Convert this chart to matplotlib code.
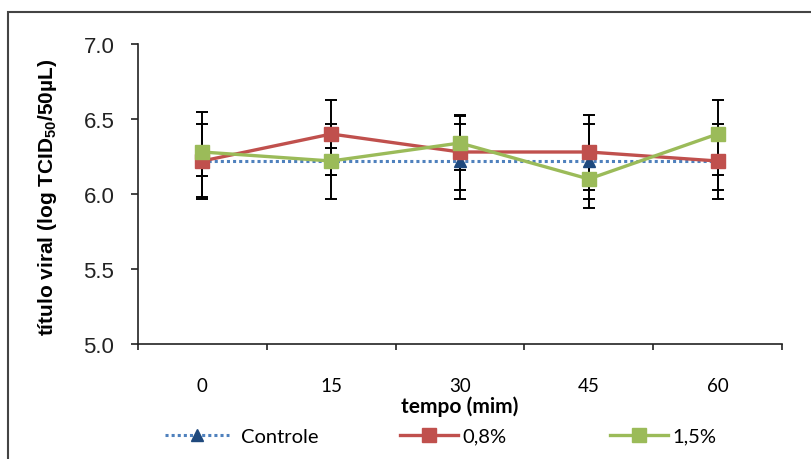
import matplotlib
matplotlib.use("Agg")
import matplotlib.pyplot as plt
from matplotlib.lines import Line2D
from matplotlib.patches import Rectangle

times = ['0', '15', '30', '45', '60']
controle = [6.22, 6.22, 6.22, 6.22, 6.22]
controle_err = [0.25, 0.25, 0.25, 0.25, 0.25]
p08 = [6.22, 6.40, 6.28, 6.28, 6.22]
p08_lo = [0.10, 0.27, 0.25, 0.25, 0.19]
p08_hi = [0.10, 0.23, 0.25, 0.25, 0.19]
p15 = [6.28, 6.22, 6.34, 6.10, 6.40]
p15_lo = [0.30, 0.09, 0.18, 0.19, 0.27]
p15_hi = [0.27, 0.09, 0.18, 0.19, 0.23]
yticks = [5.0, 5.5, 6.0, 6.5, 7.0]

plt.rcParams['mathtext.fontset'] = 'custom'
plt.rcParams['mathtext.rm'] = 'Liberation Sans:bold'
plt.rcParams['mathtext.default'] = 'rm'

W, H = 811, 460
fig = plt.figure(figsize=(W / 100, H / 100), dpi=100)
ax = fig.add_axes([138 / W, 1 - 345 / H, (782 - 138) / W, (345 - 45) / H])

x = list(range(len(times)))
blue_line = '#4F81BD'
blue_mk = '#1F497D'
red = '#C0504D'
green = '#9BBB59'

eb_kw = dict(fmt='none', ecolor='black', elinewidth=1.4, capsize=4.5, capthick=1.4, zorder=2)
ax.errorbar(x, controle, yerr=controle_err, **eb_kw)
ax.errorbar(x, p08, yerr=[p08_lo, p08_hi], **eb_kw)
ax.errorbar(x, p15, yerr=[p15_lo, p15_hi], **eb_kw)

ax.plot(x, controle, color=blue_line, linestyle=(0, (1, 1)), lw=2.2,
        marker='^', ms=8, mfc=blue_mk, mec=blue_mk, zorder=3)
ax.plot(x, p08, color=red, lw=2.4, marker='s', ms=10, mfc=red, mec=red, zorder=4)
ax.plot(x, p15, color=green, lw=2.4, marker='s', ms=10, mfc=green, mec=green, zorder=5)

ax.set_xlim(-0.5, len(times) - 0.5)
ax.set_ylim(5.0, 7.0)
ax.set_yticks(yticks)
ax.set_yticklabels([f'{v:.1f}' for v in yticks], family='Liberation Sans', fontsize=16, color='#222222')
ax.set_xticks([i - 0.5 for i in range(len(times) + 1)])
ax.set_xticklabels([])
ax.set_xticks(x, minor=True)
ax.set_xticklabels(times, minor=True, family='Lato', fontsize=13.5)
ax.tick_params(axis='x', which='major', direction='out', length=4, width=1.2, color='#222222')
ax.tick_params(axis='x', which='minor', length=0, pad=24)
ax.tick_params(axis='y', direction='out', length=5, width=1.2, color='#222222', pad=12)

for s in ['top', 'right']:
    ax.spines[s].set_visible(False)
for s in ['left', 'bottom']:
    ax.spines[s].set_linewidth(1.2)
    ax.spines[s].set_color('#222222')

fig.text(460 / W, 1 - 407 / H, 'tempo (mim)', ha='center', va='center',
         family='Lato', fontweight='bold', fontsize=15)
fig.text(48 / W, 1 - 197 / H, 'título viral (log TCID$_{50}$/50µL)', rotation=90,
         ha='center', va='center', family='Liberation Sans', fontweight='bold', fontsize=15)

# figure frame
fig.add_artist(Rectangle((8 / W, -0.1), 1.2, 1 - 13 / H + 0.1, transform=fig.transFigure,
                         fill=False, edgecolor='#444444', lw=1.5))

handles = [
    Line2D([], [], color=blue_line, linestyle=(0, (1, 1)), lw=2.2, marker='^', ms=8,
           mfc=blue_mk, mec=blue_mk),
    Line2D([], [], color=red, lw=2.4, marker='s', ms=10, mfc=red, mec=red),
    Line2D([], [], color=green, lw=2.4, marker='s', ms=10, mfc=green, mec=green),
]
labels = ['Controle', '0,8%', '1,5%']
xpos = [165, 400, 610]
hlen = [3.2, 2.9, 2.9]
hpad = [0.55, 0.2, 0.2]
for h, l, xp, hl, hp in zip(handles, labels, xpos, hlen, hpad):
    fig.legend(handles=[h], labels=[l], loc='center left',
               bbox_to_anchor=(xp / W, 1 - 437 / H), frameon=False,
               borderpad=0, borderaxespad=0, handlelength=hl, handletextpad=hp,
               prop={'family': 'Lato', 'size': 14.5})

fig.savefig('out.png', dpi=100)
